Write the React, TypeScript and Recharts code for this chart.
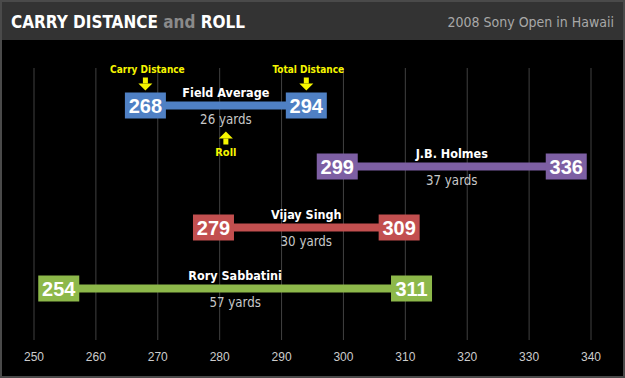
import { ComposedChart, Bar, XAxis, YAxis, CartesianGrid } from 'recharts'

const golfers = ['Field Average', 'J.B. Holmes', 'Vijay Singh', 'Rory Sabbatini']
const carryYards = [268, 299, 279, 254]
const totalYards = [294, 336, 309, 311]
const barColors = ['#4f80c4', '#7d5fa3', '#c24f4f', '#8db84a']
const xTicks = [250, 260, 270, 280, 290, 300, 310, 320, 330, 340]

const data = golfers.map((name, i) => ({
  name,
  range: [carryYards[i], totalYards[i]],
  carry: carryYards[i],
  total: totalYards[i],
  color: barColors[i],
}))

const narrow = "'DejaVu Sans Condensed', sans-serif"
const plain = "'Liberation Sans', Arial, sans-serif"
const YELLOW = '#f6f600'

function DownArrow({ x, y }: { x: number; y: number }) {
  return (
    <g fill={YELLOW}>
      <rect x={x - 2.5} y={y} width={5} height={6} />
      <polygon points={`${x - 7},${y + 6} ${x + 7},${y + 6} ${x},${y + 13}`} />
    </g>
  )
}

function UpArrow({ x, y }: { x: number; y: number }) {
  return (
    <g fill={YELLOW}>
      <polygon points={`${x - 7},${y + 7} ${x + 7},${y + 7} ${x},${y}`} />
      <rect x={x - 2.5} y={y + 7} width={5} height={6} />
    </g>
  )
}

function RangeShape(props: any) {
  const { x, y, width, height, payload, index } = props
  const cy = y + height / 2
  const x1 = x
  const x2 = x + width
  const mid = (x1 + x2) / 2
  const boxW = 41
  const boxH = 26
  const color = payload.color
  return (
    <g>
      <rect x={x1} y={cy - 4} width={x2 - x1} height={8} fill={color} />
      <rect x={x1 - boxW / 2} y={cy - boxH / 2} width={boxW} height={boxH} fill={color} />
      <rect x={x2 - boxW / 2} y={cy - boxH / 2} width={boxW} height={boxH} fill={color} />
      <text x={x1} y={cy + 7} textAnchor="middle" fill="#fff" fontSize={20} fontWeight="bold" fontFamily={plain}>
        {payload.carry}
      </text>
      <text x={x2} y={cy + 7} textAnchor="middle" fill="#fff" fontSize={20} fontWeight="bold" fontFamily={plain}>
        {payload.total}
      </text>
      <text x={mid} y={cy - 9} textAnchor="middle" fill="#fff" fontSize={12.5} fontWeight="bold" fontFamily={narrow}>
        {payload.name}
      </text>
      <text x={mid} y={cy + 18} textAnchor="middle" fill="#c8c8c8" fontSize={13.2} fontFamily={narrow}>
        {payload.total - payload.carry} yards
      </text>
      {index === 0 && (
        <g>
          <text x={x1 + 2} y={cy - 33} textAnchor="middle" fill={YELLOW} fontSize={10} fontWeight="bold" fontFamily={narrow}>
            Carry Distance
          </text>
          <DownArrow x={x1} y={cy - 28} />
          <text x={x2 + 2} y={cy - 33} textAnchor="middle" fill={YELLOW} fontSize={10} fontWeight="bold" fontFamily={narrow}>
            Total Distance
          </text>
          <DownArrow x={x2} y={cy - 28} />
          <UpArrow x={mid} y={cy + 26} />
          <text x={mid} y={cy + 50} textAnchor="middle" fill={YELLOW} fontSize={11} fontWeight="bold" fontFamily={narrow}>
            Roll
          </text>
        </g>
      )}
    </g>
  )
}

export default function App() {
  return (
    <div style={{ position: 'relative', width: 625, height: 378, background: '#000', overflow: 'hidden' }}>
      <style>{'body{margin:0}'}</style>
      <ComposedChart
        width={625}
        height={378}
        data={data}
        layout="vertical"
        margin={{ top: 68, right: 34, left: 34, bottom: 8 }}
        style={{ position: 'absolute', left: 0, top: 0 }}
      >
        <CartesianGrid horizontal={false} stroke="#404040" />
        <XAxis
          type="number"
          domain={[250, 340]}
          ticks={xTicks}
          axisLine={false}
          tickLine={false}
          tickMargin={6}
          height={30}
          tick={{ fill: '#cccccc', fontSize: 12, fontFamily: plain }}
        />
        <YAxis type="category" dataKey="name" hide padding={{ top: 6.5, bottom: 21.5 }} />
        <Bar dataKey="range" barSize={8} shape={RangeShape} isAnimationActive={false} />
      </ComposedChart>
      <div
        style={{
          position: 'absolute',
          left: 0,
          top: 0,
          width: 625,
          height: 40,
          background: '#333333',
        }}
      >
        <div style={{ position: 'absolute', left: 11, top: 11.5, lineHeight: 'normal', fontFamily: narrow, fontWeight: 'bold', fontSize: 17, color: '#fff', whiteSpace: 'nowrap' }}>
          CARRY DISTANCE <span style={{ color: '#8a8a8a' }}>and</span> ROLL
        </div>
        <div style={{ position: 'absolute', right: 11, top: 13.5, lineHeight: 'normal', fontFamily: narrow, fontSize: 14, color: '#a8a8a8', whiteSpace: 'nowrap' }}>
          2008 Sony Open in Hawaii
        </div>
      </div>
      <div
        style={{
          position: 'absolute',
          inset: 0,
          border: '2px solid #4a4a4a',
          boxSizing: 'border-box',
          pointerEvents: 'none',
        }}
      />
    </div>
  )
}
